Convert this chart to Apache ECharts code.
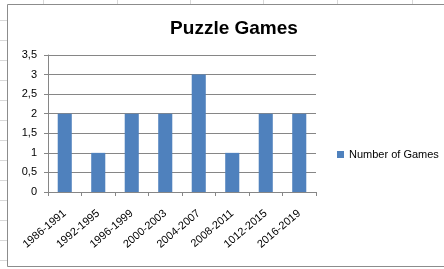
<!DOCTYPE html>
<html><head><meta charset="utf-8">
<script src="https://cdn.jsdelivr.net/npm/echarts@6/dist/echarts.min.js"></script>
<style>html,body{margin:0;padding:0;background:#fff}#c{width:444px;height:269px}</style>
</head><body><div id="c"></div>
<script>
var categories = ['1986-1991','1992-1995','1996-1999','2000-2003','2004-2007','2008-2011','1012-2015','2016-2019'];
var games = [2, 1, 2, 2, 3, 1, 2, 2];
var seriesName = 'Number of Games';
var titleText = 'Puzzle Games';

var chart = echarts.init(document.getElementById('c'), null, {renderer:'canvas'});
var font = '"Liberation Sans", Arial, sans-serif';
var sheetLines = [];
[43,117,190,263,337,412].forEach(function(x){
  sheetLines.push({type:'line', shape:{x1:x+0.5,y1:0,x2:x+0.5,y2:4}, style:{stroke:'#d8d8d8',lineWidth:1}, silent:true});
});
[20,40,60,80,100,120,140,160,180,200,220,240,260].forEach(function(y){
  sheetLines.push({type:'line', shape:{x1:0,y1:y+0.5,x2:7,y2:y+0.5}, style:{stroke:'#d8d8d8',lineWidth:1}, silent:true});
});
sheetLines.push({type:'rect', shape:{x:7.5,y:4.5,width:440,height:262}, style:{fill:null,stroke:'#8c8c8c',lineWidth:1}, silent:true});

chart.setOption({
  animation:false,
  backgroundColor:'#fff',
  textStyle:{fontFamily:font},
  title:{text:titleText, left:229, textAlign:'center', top:14,
    textStyle:{fontFamily:font, fontSize:19, fontWeight:'bold', color:'#000'}},
  legend:{data:[seriesName], left:332, top:144, icon:'rect', itemWidth:7, itemHeight:7, itemGap:4,
    textStyle:{fontFamily:font, fontSize:11, color:'#000'}},
  grid:{left:48, right:128, top:55, bottom:77, containLabel:false},
  xAxis:{type:'category', data:categories, boundaryGap:true,
    axisLine:{lineStyle:{color:'#868686'}},
    axisTick:{show:true, length:4, lineStyle:{color:'#868686'}},
    axisLabel:{rotate:40, fontSize:11, color:'#000', margin:20, interval:0, fontFamily:font}},
  yAxis:{type:'value', min:0, max:3.5, interval:0.5,
    axisLine:{show:true, lineStyle:{color:'#868686'}},
    axisTick:{show:true, length:4, lineStyle:{color:'#868686'}},
    splitLine:{lineStyle:{color:'#868686'}},
    axisLabel:{fontSize:11, color:'#000', margin:11, fontFamily:font,
      formatter:function(v){return String(v).replace('.',',');}}},
  series:[{name:seriesName, type:'bar', data:games, barWidth:'42%', itemStyle:{color:'#4F81BD'}}],
  graphic:sheetLines
});
</script></body></html>
